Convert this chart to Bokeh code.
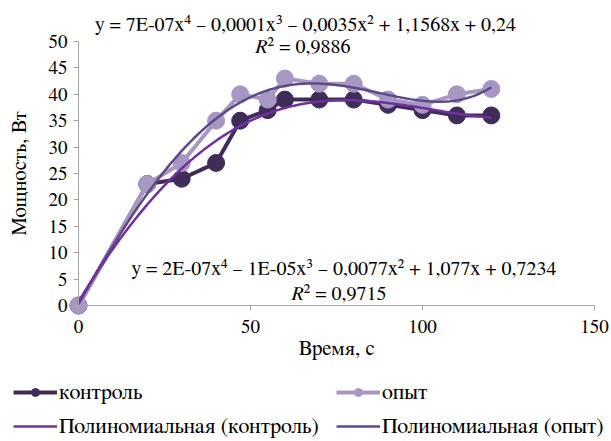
import numpy as np
from bokeh.plotting import figure
from bokeh.models import Range1d, Legend, LegendItem, Label, FixedTicker
from bokeh.embed import file_html
from bokeh.resources import INLINE

# data
time_s = [0, 20, 30, 40, 47, 55, 60, 70, 80, 90, 100, 110, 120]
control = [0, 23, 24, 27, 35, 37, 39, 39, 39, 38, 37, 36, 36]
experiment = [0, 23, 27, 35, 40, 39, 43, 42, 42, 39, 38, 40, 41]
x_ticks = [0, 50, 100, 150]
y_ticks = [0, 5, 10, 15, 20, 25, 30, 35, 40, 45, 50]
eq_exp = "y = 7E-07x⁴ – 0,0001x³ – 0,0035x² + 1,1568x + 0,24"
r2_exp = "² = 0,9886"
eq_ctl = "y = 2E-07x⁴ – 1E-05x³ – 0,0077x² + 1,077x + 0,7234"
r2_ctl = "² = 0,9715"

FONT = "FreeSerif"
C_DARK = "#3F2D58"
C_LIGHT = "#A698C2"
C_TR_CTL = "#7030A0"
C_TR_EXP = "#5E4A88"

p = figure(width=611, height=441, output_backend="svg", toolbar_location=None,
           x_range=Range1d(-22.674, 154.94), y_range=Range1d(-25.758, 57.765),
           min_border_left=0, min_border_right=0, min_border_top=0, min_border_bottom=0)
p.outline_line_color = None
p.grid.visible = False

for ax in (p.xaxis[0], p.yaxis[0]):
    ax.fixed_location = 0
    ax.axis_line_color = "#A6A6A6"
    ax.major_tick_line_color = "#A6A6A6"
    ax.minor_tick_line_color = None
    ax.major_tick_in = 0
    ax.major_tick_out = 5
    ax.major_label_text_font = FONT
    ax.major_label_text_font_size = "19px"
    ax.major_label_text_color = "#000000"
    ax.axis_label_text_font = FONT
    ax.axis_label_text_font_size = "21px"
    ax.axis_label_text_font_style = "normal"
    ax.axis_label_text_color = "#000000"

p.xaxis.ticker = FixedTicker(ticks=x_ticks)
p.yaxis.ticker = FixedTicker(ticks=y_ticks)
p.xaxis.bounds = (0, 150)
p.yaxis.bounds = (0, 50)
p.xaxis.axis_label = "Время, с"
p.yaxis.axis_label = "Мощность, Вт"
p.xaxis.major_label_standoff = 10
p.yaxis.major_label_standoff = 6
p.xaxis.axis_label_standoff = 1
p.yaxis.axis_label_standoff = 15

# series
l_ctl = p.line(time_s, control, line_color=C_DARK, line_width=4)
s_ctl = p.scatter(time_s, control, size=17, fill_color=C_DARK, line_color=C_DARK)
l_exp = p.line(time_s, experiment, line_color=C_LIGHT, line_width=4)
s_exp = p.scatter(time_s, experiment, size=17, fill_color=C_LIGHT, line_color=C_LIGHT)

# polynomial trend lines (degree 4 fits of the data)
xx = np.linspace(0, 120, 200)
fit_ctl = np.polyval(np.polyfit(time_s, control, 4), xx)
fit_exp = np.polyval(np.polyfit(time_s, experiment, 4), xx)
t_exp = p.line(xx, fit_exp, line_color=C_TR_EXP, line_width=2.5)
t_ctl = p.line(xx, fit_ctl, line_color=C_TR_CTL, line_width=2.5)

# equations
def lab(x, y, text, align="center", style="normal"):
    p.add_layout(Label(x=x, y=y, text=text, text_align=align, text_baseline="middle",
                       text_font=FONT, text_font_size="20px", text_font_style=style,
                       text_color="#000000"))

lab(66, 53.2, eq_exp)
lab(54.9, 49.05, "R", align="right", style="italic")
lab(54.9, 49.05, r2_exp, align="left")
lab(77.2, 7.0, eq_ctl)
lab(65.4, 2.27, "R", align="right", style="italic")
lab(65.4, 2.27, r2_ctl, align="left")

def make_legend(items, loc):
    lg = Legend(items=items, location=loc, orientation="vertical",
                glyph_width=44, glyph_height=20, label_height=20, spacing=10,
                label_standoff=2, padding=0, margin=0,
                border_line_alpha=0, background_fill_alpha=0,
                label_text_font=FONT, label_text_font_size="22px",
                label_text_color="#000000")
    p.add_layout(lg, "center")

make_legend([LegendItem(label="контроль", renderers=[l_ctl, s_ctl]),
             LegendItem(label="Полиномиальная (контроль)", renderers=[t_ctl])], (13, 3))
make_legend([LegendItem(label="опыт", renderers=[l_exp, s_exp]),
             LegendItem(label="Полиномиальная (опыт)", renderers=[t_exp])], (336, 3))

open("out.html", "w").write(file_html(p, INLINE))
